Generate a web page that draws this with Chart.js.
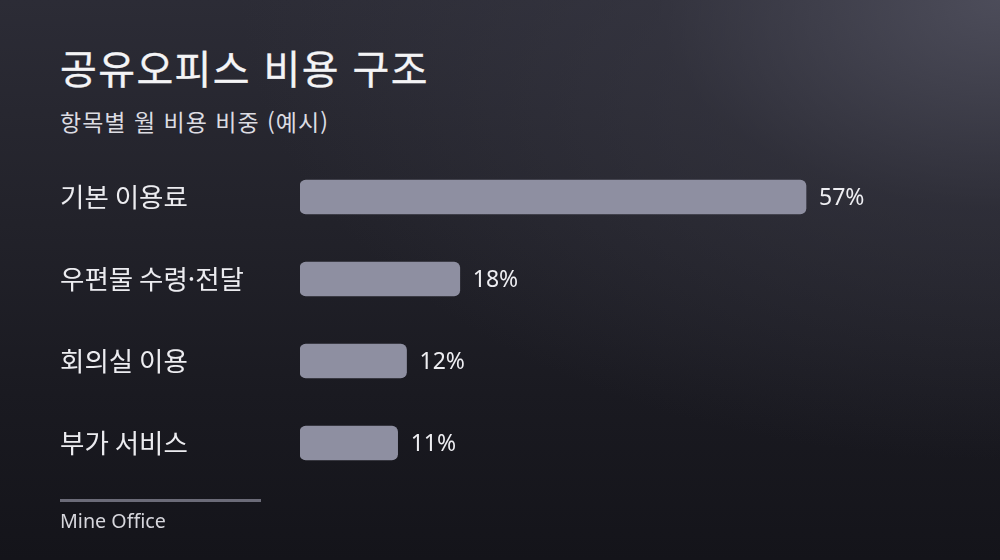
<!DOCTYPE html>
<html lang="ko">
<head>
<meta charset="utf-8">
<script src="https://cdn.jsdelivr.net/npm/chart.js@4.4.1/dist/chart.umd.min.js"></script>
<style>
  html, body { margin: 0; padding: 0; }
  body {
    width: 1000px; height: 560px; overflow: hidden; position: relative;
    font-family: "Noto Sans CJK KR", "Noto Sans", sans-serif;
    background:
      radial-gradient(ellipse 760px 460px at 1000px 0px, rgba(82,82,96,0.85) 0%, rgba(60,60,72,0.45) 45%, rgba(40,40,50,0) 100%),
      linear-gradient(180deg, #2c2c36 0%, #22222a 40%, #1a1a21 70%, #14141a 100%);
  }
  #title { position: absolute; left: 60px; top: 38px; font-size: 40px; font-weight: 400; color: #f4f4f6; letter-spacing: 1.4px; -webkit-text-stroke: 0.3px #f4f4f6; }
  #subtitle { position: absolute; left: 60px; top: 104px; font-size: 23px; color: #dcdce2; letter-spacing: 1px; }
  #rule { position: absolute; left: 60px; top: 499px; width: 201px; height: 3px; background: #6b6b78; }
  #source { position: absolute; left: 60px; top: 507px; font-size: 19.7px; color: #d6d6dc; font-family: "Noto Sans", sans-serif; }
  #wrap { position: absolute; left: 0; top: 0; width: 1000px; height: 560px; }
</style>
</head>
<body>
<div id="title">공유오피스 비용 구조</div>
<div id="subtitle">항목별 월 비용 비중 (예시)</div>
<div id="wrap"><canvas id="chart"></canvas></div>
<div id="rule"></div>
<div id="source">Mine Office</div>
<script>
// 데이터
const categories = ['기본 이용료', '우편물 수령·전달', '회의실 이용', '부가 서비스'];
const shares = [57, 18, 12, 11];

// 막대 끝에 값 표시
const valueLabels = {
  id: 'valueLabels',
  afterDatasetsDraw(chart) {
    const c = chart.ctx;
    const meta = chart.getDatasetMeta(0);
    c.save();
    c.fillStyle = '#eeeef2';
    c.font = '23px "Noto Sans", "Noto Sans CJK KR", sans-serif';
    c.textBaseline = 'middle';
    c.textAlign = 'left';
    meta.data.forEach((bar, i) => {
      c.fillText(shares[i] + '%', bar.x + 13, bar.y + 1);
    });
    c.restore();
  }
};

new Chart(document.getElementById('chart'), {
  type: 'bar',
  data: {
    labels: categories,
    datasets: [{
      data: shares,
      backgroundColor: '#8e8fa1',
      borderRadius: 6,
      borderSkipped: false,
      barThickness: 34
    }]
  },
  options: {
    indexAxis: 'y',
    responsive: true,
    maintainAspectRatio: false,
    animation: false,
    layout: { padding: { top: 156, bottom: 76, left: 60, right: 78.6 } },
    plugins: { legend: { display: false }, tooltip: { enabled: false } },
    scales: {
      x: { display: false, min: 0, max: 70 },
      y: {
        grid: { display: false },
        border: { display: false },
        afterFit(scale) { scale.width = 240; },
        ticks: {
          crossAlign: 'far',
          padding: 0,
          color: '#ececf0',
          font: { family: '"Noto Sans CJK KR", sans-serif', size: 26.5 }
        }
      }
    }
  },
  plugins: [valueLabels]
});
</script>
</body>
</html>
